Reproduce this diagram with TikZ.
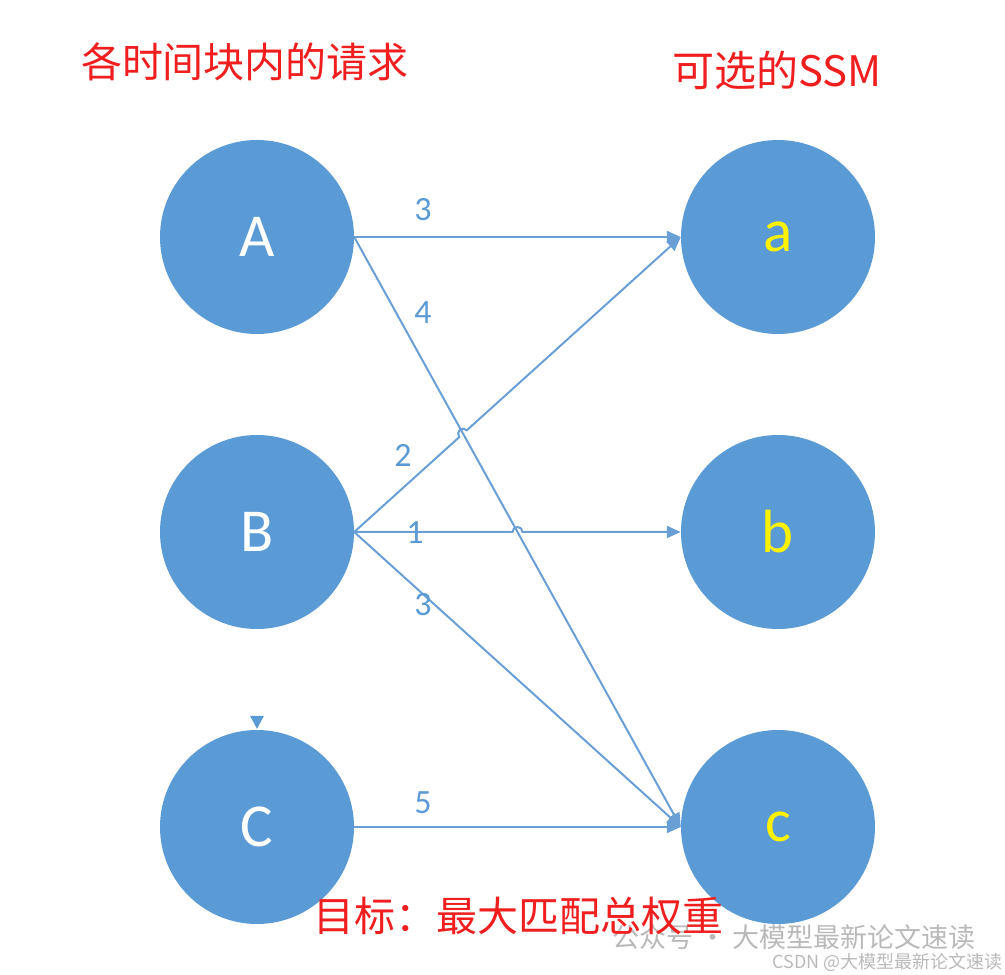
\documentclass[tikz,border=0pt]{standalone}
\usepackage{fontspec}
\setmainfont{Carlito}
\newfontfamily\cjk{Noto Sans CJK SC}
\usetikzlibrary{arrows.meta,calc,intersections}
\definecolor{nodeblue}{HTML}{5B9BD5}
\definecolor{lineblue}{HTML}{6A9FD6}
\definecolor{titlered}{HTML}{F01E1E}
\definecolor{wmgray}{HTML}{A8A8A8}
\tikzset{
  vert/.style={circle,fill=nodeblue,minimum size=194pt,inner sep=0pt,font=\fontsize{61}{61}\selectfont},
  upper/.style={vert,text=white},
  lower/.style={vert,text=yellow},
  link/.style={draw=lineblue,line width=2pt,-{Triangle[length=14pt,width=12pt]}},
  wlabel/.style={text=nodeblue,font=\fontsize{34}{34}\selectfont},
  title/.style={text=titlered,font=\cjk\fontsize{41}{41}\selectfont},
  wmark/.style={text=wmgray,opacity=0.8,inner sep=0pt},
}
\begin{document}
\begin{tikzpicture}[x=1pt,y=1pt]
\useasboundingbox (0,0) rectangle (1005,975);
% nodes
\node[upper] (A) at (257,738) {A};
\node[upper] (B) at (257,443) {B};
\node[upper] (C) at (257,148) {C};
\node[lower] (a) at (778,738) {a};
\node[lower] (b) at (778,443) {b};
\node[lower] (c) at (778,148) {c};
% small marker above C
\coordinate (ctop) at (C.north);
\fill[nodeblue] ($(ctop)+(0,1)$) -- ++(-7,13) -- ++(14,0) -- cycle;
% connectors
\draw[link] (A.east) -- (a.west);
\path[name path=Ac] (A.east) -- (c.west);
\draw[link] (A.east) -- (c.west);
\path[name path=Ba] (B.east) -- (a.west);
\path[name path=Bb] (B.east) -- (b.west);
\path[name intersections={of=Ac and Ba,by=x1}];
\path[name intersections={of=Ac and Bb,by=x2}];
\draw[link] let \p1=($(a.west)-(B.east)$), \n1={atan2(\y1,\x1)} in
  (B.east) -- ($(x1)!5pt!(B.east)$) arc[start angle=\n1+180,end angle=\n1,radius=5pt] -- (a.west);
\draw[link] (B.east) -- ($(x2)+(-5pt,0)$) arc[start angle=180,end angle=0,radius=5pt] -- (b.west);
\draw[link] (B.east) -- (c.west);
\draw[link] (C.east) -- (c.west);
% weights
\node[wlabel] (w1) at (423,765) {3};
\node[wlabel] (w2) at (423,662) {4};
\node[wlabel] (w3) at (403,520) {2};
\node[wlabel] (w4) at (415,442) {1};
\node[wlabel] (w5) at (423,370) {3};
\node[wlabel] (w6) at (423,172) {5};
% titles
\node[title] (t1) at (245,913) {各时间块内的请求};
\node[title,font=\cjk\fontsize{42}{42}\selectfont] (t2) at (777,905) {可选的SSM};
% watermark
\node[wmark,font=\cjk\fontsize{27}{27}\selectfont,anchor=east] (wm1) at (976,38) {公众号 · 大模型最新论文速读};
\node[wmark,font=\cjk\fontsize{18}{18}\selectfont,anchor=east] (wm2) at (1003,13) {CSDN @大模型最新论文速读};
\node[title] (t3) at (518,59) {目标：最大匹配总权重};
\end{tikzpicture}
\end{document}
